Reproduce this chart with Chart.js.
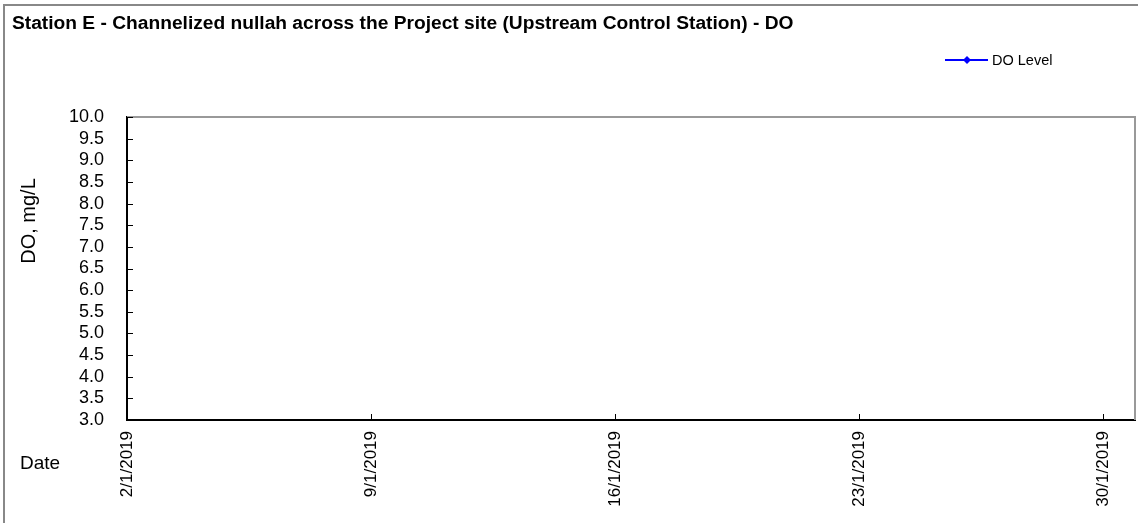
<!DOCTYPE html>
<html lang="en">
<head>
<meta charset="UTF-8">
<title>Station E - DO</title>
<script src="https://cdn.jsdelivr.net/npm/chart.js"></script>
<style>
    body { margin: 0; background: #fff; }
    canvas { display: block; }
</style>
</head>
<body>
<canvas id="doChart" width="1138" height="523"></canvas>
<script>
    // Sampling dates (day of Jan 2019) and DO readings - station has no readings plotted
    var sampleDays = [];
    var doLevels = [];

    // Axis ticks
    var xTickDays = [2, 9, 16, 23, 30];
    var xTickLabels = ['2/1/2019', '9/1/2019', '16/1/2019', '23/1/2019', '30/1/2019'];
    var yTicks = [3.0, 3.5, 4.0, 4.5, 5.0, 5.5, 6.0, 6.5, 7.0, 7.5, 8.0, 8.5, 9.0, 9.5, 10.0];

    var chartTitle = 'Station E - Channelized nullah across the Project site (Upstream Control Station) - DO';
    var seriesName = 'DO Level';

    var points = sampleDays.map(function (d, i) { return { x: d, y: doLevels[i] }; });

    // Extra drawing: outer frame, plot frame, inner tick marks, titles, legend
    var decorations = {
        id: 'decorations',
        afterDraw: function (chart) {
            var ctx = chart.ctx;
            var a = chart.chartArea;
            var xs = chart.scales.x, ys = chart.scales.y;
            ctx.save();

            // outer frame
            ctx.strokeStyle = '#888';
            ctx.lineWidth = 2;
            ctx.strokeRect(4, 5, 1300, 700);

            // top / right plot border
            ctx.strokeStyle = '#999';
            ctx.lineWidth = 2;
            ctx.beginPath();
            ctx.moveTo(a.left, a.top);
            ctx.lineTo(a.right, a.top);
            ctx.lineTo(a.right, a.bottom);
            ctx.stroke();

            // tick marks pointing inward
            ctx.strokeStyle = '#000';
            ctx.lineWidth = 1;
            ctx.beginPath();
            ys.ticks.forEach(function (t) {
                var y = Math.round(ys.getPixelForValue(t.value)) + 0.5;
                ctx.moveTo(a.left, y);
                ctx.lineTo(a.left + 6, y);
            });
            xs.ticks.forEach(function (t) {
                var x = Math.round(xs.getPixelForValue(t.value)) + 0.5;
                ctx.moveTo(x, a.bottom);
                ctx.lineTo(x, a.bottom - 6);
            });
            ctx.stroke();

            // chart title
            ctx.fillStyle = '#000';
            ctx.font = 'bold 19.2px "Liberation Sans", Arial, sans-serif';
            ctx.textAlign = 'left';
            ctx.textBaseline = 'alphabetic';
            ctx.fillText(chartTitle, 12, 29);

            // axis titles
            ctx.font = '19px "Liberation Sans", Arial, sans-serif';
            ctx.textBaseline = 'middle';
            ctx.fillText('Date', 20, 464);
            ctx.save();
            ctx.translate(29, 221);
            ctx.rotate(-Math.PI / 2);
            ctx.textAlign = 'center';
            ctx.font = '20px "Liberation Sans", Arial, sans-serif';
            ctx.fillText('DO, mg/L', 0, 0);
            ctx.restore();

            // legend
            var ds = chart.data.datasets[0];
            var ly = 60;
            ctx.strokeStyle = ds.borderColor;
            ctx.lineWidth = 2;
            ctx.beginPath();
            ctx.moveTo(945, ly);
            ctx.lineTo(988, ly);
            ctx.stroke();
            ctx.fillStyle = ds.borderColor;
            ctx.beginPath();
            ctx.moveTo(967, ly - 4);
            ctx.lineTo(971, ly);
            ctx.lineTo(967, ly + 4);
            ctx.lineTo(963, ly);
            ctx.closePath();
            ctx.fill();
            ctx.fillStyle = '#000';
            ctx.font = '14.5px "Liberation Sans", Arial, sans-serif';
            ctx.textAlign = 'left';
            ctx.fillText(ds.label, 992, ly + 1);

            ctx.restore();
        }
    };

    new Chart(document.getElementById('doChart'), {
        type: 'line',
        data: {
            datasets: [{
                label: seriesName,
                data: points,
                borderColor: '#0000FF',
                backgroundColor: '#0000FF',
                borderWidth: 2,
                pointStyle: 'rectRot',
                pointRadius: 4
            }]
        },
        options: {
            responsive: false,
            animation: false,
            devicePixelRatio: 1,
            layout: { padding: { top: 117, right: 3, bottom: 0, left: 0 } },
            plugins: {
                legend: { display: false },
                tooltip: { enabled: false }
            },
            scales: {
                x: {
                    type: 'linear',
                    min: 2,
                    max: 30.92,
                    afterBuildTicks: function (scale) {
                        scale.ticks = xTickDays.map(function (v) { return { value: v }; });
                    },
                    afterFit: function (scale) { scale.height = 103; },
                    ticks: {
                        autoSkip: false,
                        minRotation: 90,
                        maxRotation: 90,
                        padding: 11,
                        color: '#000',
                        font: { family: '"Liberation Sans", Arial, sans-serif', size: 17 },
                        callback: function (v) { return xTickLabels[xTickDays.indexOf(v)]; }
                    },
                    grid: { drawOnChartArea: false, drawTicks: false },
                    border: { color: '#000', width: 2 }
                },
                y: {
                    min: 3,
                    max: 10,
                    afterBuildTicks: function (scale) {
                        scale.ticks = yTicks.map(function (v) { return { value: v }; });
                    },
                    afterFit: function (scale) { scale.width = 127; },
                    ticks: {
                        autoSkip: false,
                        padding: 23,
                        color: '#000',
                        font: { family: '"Liberation Sans", Arial, sans-serif', size: 18 },
                        callback: function (v) { return v.toFixed(1); }
                    },
                    grid: { drawOnChartArea: false, drawTicks: false },
                    border: { color: '#000', width: 2 }
                }
            }
        },
        plugins: [decorations]
    });
</script>
</body>
</html>
